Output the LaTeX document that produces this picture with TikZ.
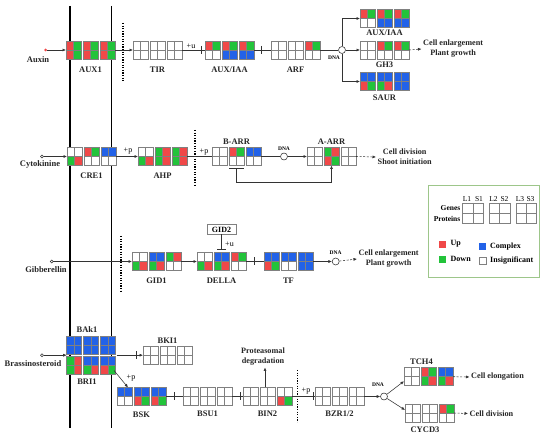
\documentclass[tikz,border=0pt]{standalone}
\usepackage{fontspec}
\setmainfont{Liberation Serif}
\usetikzlibrary{arrows.meta,calc}
\definecolor{cr}{HTML}{F04848}
\definecolor{cg}{HTML}{22C33A}
\definecolor{cb}{HTML}{2262E8}
\definecolor{cw}{HTML}{FFFFFF}
\definecolor{gridc}{HTML}{808080}
\definecolor{legc}{HTML}{9DC68A}
\definecolor{ink}{HTML}{333333}
\def\gb#1#2#3,#4,#5,#6;{%
  \fill[#3] (#1,#2) rectangle ++(7.5,9);
  \fill[#4] (#1+7.5,#2) rectangle ++(7.5,9);
  \fill[#5] (#1,#2+9) rectangle ++(7.5,9);
  \fill[#6] (#1+7.5,#2+9) rectangle ++(7.5,9);
  \draw[gridl] (#1,#2) rectangle ++(15,18);
  \draw[gridl] (#1+7.5,#2) -- ++(0,18);
  \draw[gridl] (#1,#2+9) -- ++(15,0);
}
\newcommand\grp[6]{%
  \gb{#2}{#3}#4;
  \gb{#2+17}{#3}#5;
  \gb{#2+34}{#3}#6;
  \node[grpn] (#1) at (#2+24.5,#3+9) {};
}
\newcommand\vbar[1]{\draw[con] ($(#1)+(0,-4)$) -- ($(#1)+(0,4)$);}
\begin{document}
\begin{tikzpicture}[x=1pt,y=-1pt,
  gridl/.style={draw=gridc,line width=0.45pt},
  grpn/.style={inner sep=0pt,outer sep=0pt,minimum width=49pt,minimum height=18pt},
  con/.style={draw=ink,line width=0.55pt},
  arr/.style={-{Latex[length=3.5pt,width=3pt]}},
  dsh/.style={dash pattern=on 2pt off 1.6pt},
  memb/.style={draw=black,line width=1.3pt},
  dotl/.style={draw=black,line width=1.3pt,dash pattern=on 1.2pt off 1.4pt},
  lab/.style={font=\bfseries\fontsize{8.5}{10}\selectfont,inner sep=0pt,text=black!85},
  res/.style={font=\bfseries\fontsize{8.2}{10}\selectfont,inner sep=1.5pt,align=center,text=black!85},
  smt/.style={font=\fontsize{8}{9}\selectfont,inner sep=0pt},
  dnat/.style={font=\bfseries\fontsize{5.5}{6}\selectfont,inner sep=0pt},
  dnac/.style={circle,draw=ink,line width=0.55pt,fill=white,minimum size=7pt,inner sep=0pt},
  odot/.style={circle,draw=ink,fill=white,line width=0.5pt,minimum size=3pt,inner sep=0pt},
  rdot/.style={circle,fill=cr,minimum size=3pt,inner sep=0pt},
  legt/.style={font=\fontsize{7.5}{8}\selectfont,inner sep=0pt},
  legt2/.style={font=\bfseries\fontsize{7.5}{8}\selectfont,inner sep=0pt},
  legl/.style={font=\bfseries\fontsize{8}{9}\selectfont,inner sep=0pt},
]
\useasboundingbox (0,0) rectangle (550,441);
\fill[white] (0,0) rectangle (550,441);
% membranes and dotted nuclear borders
\draw[memb] (70,6) -- (70,428);
\draw[memb] (111.5,6) -- (111.5,428);
\draw[dotl] (123,23) -- (123,82);
\draw[dotl] (195,130) -- (195,186);
\draw[dotl] (121,236) -- (121,292);
\draw[dotl] (297.3,370) -- (297.3,422);

% ---------------- Auxin ----------------
\grp{aux1}{66}{41}{cr,cg,cr,cg}{cr,cg,cr,cg}{cr,cg,cr,cg}
\grp{tir}{133}{41}{cw,cw,cw,cw}{cw,cw,cw,cw}{cw,cw,cw,cw}
\grp{auxiaa}{205}{41}{cr,cg,cw,cw}{cr,cg,cb,cb}{cr,cg,cb,cb}
\grp{arf}{271}{41}{cw,cw,cw,cw}{cw,cw,cw,cw}{cr,cg,cw,cw}
\grp{auxiaab}{360}{9.5}{cr,cg,cw,cw}{cr,cg,cb,cb}{cr,cg,cb,cb}
\grp{gh3}{360}{41}{cw,cw,cw,cw}{cr,cg,cw,cw}{cr,cg,cw,cw}
\grp{saur}{360}{72.5}{cb,cb,cr,cg}{cb,cb,cg,cr}{cb,cb,cb,cb}
\node[rdot] (auxdot) at (45.7,50) {};
\node[lab] (tauxin) at (38,59.5) {Auxin};
\node[lab] (laux1) at (90.5,70) {AUX1};
\node[lab] (ltir) at (157.5,70) {TIR};
\node[lab] (lauxiaa) at (229.5,70) {AUX/IAA};
\node[lab] (larf) at (295.5,70) {ARF};
\node[lab] (lauxiaab) at (384.5,33) {AUX/IAA};
\node[lab] (lgh3) at (384.5,65) {GH3};
\node[lab] (lsaur) at (384.5,97.5) {SAUR};
\node[dnac] (dna1) at (342,50) {};
\node[dnat] (tdna1) at (334,57.5) {DNA};
\node[res,anchor=west] (ce1) at (421.5,49) {Cell enlargement\\Plant growth};
\node[smt] (pu1) at (191,46) {+u};
\draw[con,arr] (auxdot) -- (aux1.west);
\draw[con,arr] (aux1.east) -- (tir.west);
\draw[con] (tir.east) -- (auxiaa.west);
\coordinate (bb1) at (201.5,50); \vbar{bb1}
\draw[con] (auxiaa.east) -- (arf.west);
\coordinate (bb2) at (261,50); \vbar{bb2}
\draw[con] (arf.east) -- (dna1);
\draw[con,arr] (dna1.north) |- (auxiaab.west);
\draw[con,arr] (dna1.east) -- (gh3.west);
\draw[con,arr] (dna1.south) |- (saur.west);
\draw[con,dsh,arr] (gh3.east) -- (ce1.west);

% ---------------- Cytokinine ----------------
\grp{cre1}{67}{147.5}{cw,cw,cg,cr}{cr,cg,cw,cw}{cb,cb,cw,cw}
\grp{ahp}{138}{147.5}{cw,cw,cg,cr}{cg,cr,cg,cr}{cg,cr,cg,cr}
\grp{barr}{212}{147.5}{cw,cw,cw,cw}{cr,cg,cw,cw}{cb,cb,cw,cw}
\grp{aarr}{307}{147.5}{cw,cw,cw,cw}{cg,cr,cr,cg}{cw,cw,cw,cw}
\node[odot] (cytdot) at (42,156.5) {};
\node[lab] (tcyt) at (40,164.5) {Cytokinine};
\node[lab] (lcre1) at (91.5,175.5) {CRE1};
\node[lab] (lahp) at (162.5,175.5) {AHP};
\node[lab] (lbarr) at (236.5,142) {B-ARR};
\node[lab] (laarr) at (331.5,142) {A-ARR};
\node[dnac] (dna2) at (284,156.5) {};
\node[dnat] (tdna2) at (284,148.5) {DNA};
\node[smt] (pp1) at (128,151.5) {+p};
\node[smt] (pp2) at (204,152) {+p};
\node[res,anchor=west] (cd1) at (376,157) {Cell division\\Shoot initiation};
\draw[con,arr] (cytdot) -- (cre1.west);
\draw[con,arr] (cre1.east) -- (ahp.west);
\draw[con] (ahp.east) -- (barr.west);
\draw[con] (barr.east) -- (dna2);
\draw[con,arr] (dna2) -- (aarr.west);
\draw[con,dsh,arr] (aarr.east) -- (cd1.west);
\draw[con,{Bar[width=15pt]}-{Latex[length=3.5pt,width=3pt]}] ($(barr.south)+(0,2.5)$) -- ++(0,14.5) -| (aarr.south);

% ---------------- Gibberellin ----------------
\grp{gid1}{132}{252.5}{cw,cw,cg,cr}{cb,cb,cg,cr}{cg,cr,cw,cw}
\grp{della}{197}{252.5}{cw,cw,cg,cr}{cb,cb,cg,cr}{cr,cg,cw,cw}
\grp{tf}{264}{252.5}{cb,cb,cr,cg}{cb,cb,cw,cw}{cb,cb,cb,cb}
\node[odot] (gibdot) at (51.7,261.5) {};
\node[lab] (tgib) at (46,269.5) {Gibberellin};
\node[lab] (lgid1) at (156.5,281) {GID1};
\node[lab] (ldella) at (221.5,281) {DELLA};
\node[lab] (ltf) at (288.5,281) {TF};
\node[draw=gridc,line width=0.5pt,minimum width=29pt,minimum height=9.5pt,inner sep=0pt,font=\bfseries\fontsize{8}{9}\selectfont] (gid2) at (221.5,229.5) {GID2};
\node[smt] (pu2) at (229.5,244) {+u};
\node[dnac] (dna3) at (335.7,261.5) {};
\node[dnat] (tdna3) at (335.7,253) {DNA};
\node[res,anchor=west] (ce2) at (357,259) {Cell enlargement\\Plant growth};
\draw[con,arr] (gibdot) -- (gid1.west);
\draw[con,arr] (gid1.east) -- (della.west);
\draw[con] (della.east) -- (tf.west);
\coordinate (bb3) at (254.5,261.5); \vbar{bb3}
\draw[con,arr] (tf.east) -- (dna3);
\draw[con,dsh,arr] (dna3) -- (ce2.west);
\draw[con,-{Bar[width=9pt]}] (gid2.south) -- ($(della.north)+(0,-2.5)$);

% ---------------- Brassinosteroid ----------------
\grp{bak1}{66.7}{336}{cb,cb,cb,cb}{cb,cb,cb,cb}{cb,cb,cb,cb}
\grp{bri1}{66.7}{356.5}{cg,cr,cg,cr}{cb,cb,cg,cr}{cb,cb,cr,cg}
\grp{bki1}{143}{346.2}{cw,cw,cw,cw}{cw,cw,cw,cw}{cw,cw,cw,cw}
\grp{bsk}{117}{387.5}{cb,cb,cw,cw}{cb,cb,cr,cg}{cb,cb,cr,cg}
\grp{bsu1}{183}{387.5}{cw,cw,cw,cw}{cw,cw,cw,cw}{cw,cw,cw,cw}
\grp{bin2}{243}{387.5}{cw,cw,cw,cw}{cw,cw,cw,cw}{cw,cw,cr,cg}
\grp{bzr}{315}{387.5}{cw,cw,cw,cw}{cw,cw,cw,cw}{cw,cw,cw,cw}
\grp{tch4}{404}{367.7}{cw,cw,cw,cw}{cr,cg,cg,cr}{cb,cb,cg,cr}
\grp{cycd3}{405}{404}{cw,cw,cw,cw}{cw,cw,cw,cw}{cr,cg,cw,cw}
\node[odot] (brdot) at (42,355.2) {};
\node[lab] (tbr) at (33,364) {Brassinosteroid};
\node[lab] (lbak1) at (87,330) {BAk1};
\node[lab] (lbri1) at (87,382) {BRI1};
\node[lab] (lbki1) at (167.5,341) {BKI1};
\node[lab] (lbsk) at (141.5,414.5) {BSK};
\node[lab] (lbsu1) at (207.5,413.5) {BSU1};
\node[lab] (lbin2) at (267.5,413.5) {BIN2};
\node[lab] (lbzr) at (339.5,413.5) {BZR1/2};
\node[lab] (ltch4) at (421.5,361.5) {TCH4};
\node[lab] (lcycd3) at (425,430) {CYCD3};
\node[res] (pd) at (263,357) {Proteasomal\\degradation};
\node[smt] (pp3) at (131,378) {+p};
\node[smt] (pp4) at (306,391) {+p};
\node[dnac] (dna4) at (384,396.5) {};
\node[dnat] (tdna4) at (378,385) {DNA};
\node[res,anchor=west] (cel) at (469.5,377) {Cell elongation};
\node[res,anchor=west] (cdv) at (468,413.5) {Cell division};
\coordinate (brin) at (66.7,355.2);
\coordinate (brout) at (116.7,355.2);
\draw[con,arr] (brdot) -- (brin);
\draw[con,arr] (brout) -- (bki1.west);
\coordinate (bb4) at (136,355.2); \vbar{bb4}
\draw[con,arr] ($(bri1.south east)+(-1.7,-4)$) -- ($(bsk.north west)+(11,0)$);
\draw[con] (bsk.east) -- (bsu1.west);
\coordinate (bb5) at (174,396.5); \vbar{bb5}
\draw[con] (bsu1.east) -- (bin2.west);
\coordinate (bb6) at (240.5,396.5); \vbar{bb6}
\coordinate (bup) at ($(bin2.north)+(-2.5,0)$);
\draw[con,arr] (bup) -- (bup |- pd.south);
\draw[con] (bin2.east) -- (bzr.west);
\coordinate (bb7) at (313,396.5); \vbar{bb7}
\draw[con,arr] (bzr.east) -- (dna4);
\draw[con,arr] (dna4) -- ($(tch4.west)+(0,4.5)$);
\draw[con,arr] (dna4) -- ($(cycd3.west)+(0,-3)$);
\draw[con,dsh,arr] (tch4.east) -- (cel.west);
\draw[con,dsh,arr] (cycd3.east) -- (cdv.west);

% ---------------- Legend ----------------
\draw[legc,line width=0.8pt] (428,185) rectangle (539,277);
\foreach \t/\x in {L1/467,S1/479,L2/493.5,S2/504.5,L3/520,S3/530.5}
  \node[legt] at (\x,199) {\t};
\foreach \x in {462.7,489.3,516} {
  \draw[gridl] (\x,203) rectangle ++(20.6,20);
  \draw[gridl] (\x+10.3,203) -- ++(0,20);
  \draw[gridl] (\x,213) -- ++(20.6,0);
}
\node[legt2,anchor=east] (tgenes) at (460.5,208) {Genes};
\node[legt2,anchor=east] (tprot) at (460.5,218.5) {Proteins};
\fill[cr] (439,241.5) rectangle ++(7,7);
\fill[cg] (439,256.5) rectangle ++(7,7);
\fill[cb] (479,243) rectangle ++(7,7);
\draw[gridl,fill=white] (479,257) rectangle ++(7,7);
\node[legl,anchor=west] (tup) at (450.5,244) {Up};
\node[legl,anchor=west] (tdown) at (450.5,259) {Down};
\node[legl,anchor=west] (tcomp) at (490,246.5) {Complex};
\node[legl,anchor=west] (tins) at (490,260.5) {Insignificant};
\end{tikzpicture}
\end{document}
